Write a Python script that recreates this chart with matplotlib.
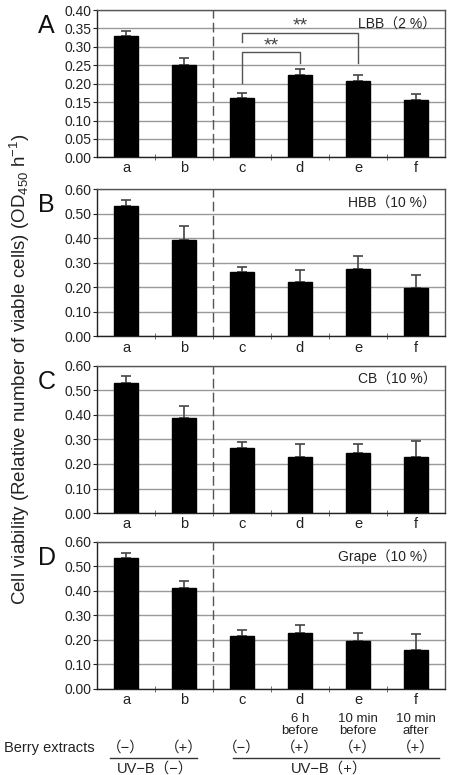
import matplotlib.pyplot as plt
import numpy as np
from matplotlib.transforms import blended_transform_factory
from matplotlib.lines import Line2D

plt.rcParams['font.family'] = ['Liberation Sans', 'Noto Sans CJK JP', 'DejaVu Sans']
plt.rcParams['mathtext.default'] = 'regular'

categories = ['a', 'b', 'c', 'd', 'e', 'f']
panel_letters = ['A', 'B', 'C', 'D']
panel_titles = ['LBB（2 %）', 'HBB（10 %）', 'CB（10 %）', 'Grape（10 %）']

lbb_mean = [0.330, 0.251, 0.160, 0.224, 0.208, 0.157]
lbb_err = [0.014, 0.020, 0.014, 0.015, 0.015, 0.014]
hbb_mean = [0.531, 0.392, 0.264, 0.220, 0.273, 0.197]
hbb_err = [0.025, 0.058, 0.020, 0.051, 0.054, 0.055]
cb_mean = [0.531, 0.389, 0.265, 0.227, 0.244, 0.227]
cb_err = [0.028, 0.049, 0.024, 0.054, 0.038, 0.065]
grape_mean = [0.532, 0.411, 0.215, 0.229, 0.196, 0.158]
grape_err = [0.023, 0.027, 0.026, 0.033, 0.033, 0.067]

means = [lbb_mean, hbb_mean, cb_mean, grape_mean]
errs = [lbb_err, hbb_err, cb_err, grape_err]
ymax = [0.40, 0.60, 0.60, 0.60]
ystep = [0.05, 0.10, 0.10, 0.10]

timing = ['', '', '', '6 h\nbefore', '10 min\nbefore', '10 min\nafter']
berry = ['（−）', '（+）', '（−）', '（+）', '（+）', '（+）']

fig = plt.figure(figsize=(4.49, 7.75), dpi=100)
bottoms = [0.797, 0.566, 0.338, 0.111]
H = 0.19
axes = []
x = np.arange(len(categories))
for i in range(4):
    ax = fig.add_axes([0.216, bottoms[i], 0.775, H])
    axes.append(ax)
    ax.bar(x, means[i], width=0.42, color='black', edgecolor='black', zorder=3)
    ax.errorbar(x, means[i], yerr=[np.zeros(6), errs[i]], fmt='none',
                ecolor='#444444', elinewidth=1.2, capsize=3.5, capthick=1.2, zorder=2)
    ax.set_xlim(-0.5, 5.5)
    ax.set_ylim(0, ymax[i])
    ticks = np.arange(0, ymax[i] + 1e-9, ystep[i])
    ax.set_yticks(ticks)
    ax.set_yticklabels([f'{t:.2f}' for t in ticks], fontsize=10)
    ax.yaxis.grid(True, color='#999999', linewidth=1.0, zorder=0)
    ax.set_axisbelow(True)
    ax.set_xticks(x)
    ax.set_xticklabels(categories, fontsize=10.5, color='#222222')
    ax.set_xticks(x[:-1] + 0.5, minor=True)
    ax.tick_params(axis='x', which='major', length=0, pad=3)
    ax.tick_params(axis='x', which='minor', length=5, direction='inout', color='#555555')
    ax.tick_params(axis='y', length=3, width=0.8, pad=1, colors='#222222')
    ax.axvline(1.5, color='#555555', linestyle=(0, (7, 3)), linewidth=1.0, zorder=4)
    ax.spines['left'].set_color('#222222')
    ax.spines['bottom'].set_color('#222222')
    ax.spines['top'].set_color('#555555')
    ax.spines['right'].set_color('#555555')
    for s in ax.spines.values():
        s.set_linewidth(1.0)
    ax.text(0.975, 0.95, panel_titles[i], transform=ax.transAxes, ha='right', va='top',
            fontsize=10, color='#222222')
    fig.text(0.085, bottoms[i] + H - 0.005, panel_letters[i], fontsize=18,
             ha='left', va='top', color='#111111')

# significance brackets in panel A
axA = axes[0]
axA.plot([2, 2, 4, 4], [0.312, 0.339, 0.339, 0.257], color='#555555', lw=1.0, zorder=5)
axA.plot([2, 2, 3, 3], [0.201, 0.285, 0.285, 0.257], color='#555555', lw=1.0, zorder=5)
axA.text(3, 0.356, '**', ha='center', va='center', fontsize=14, color='#444444')
axA.text(2.5, 0.302, '**', ha='center', va='center', fontsize=14, color='#444444')

fig.text(0.045, 0.523, 'Cell viability (Relative number of viable cells) (OD$_{450}$ h$^{-1}$)',
         rotation=90, ha='center', va='center', fontsize=13.5, color='#222222')

# treatment labels under the bottom panel
axD = axes[3]
tr = blended_transform_factory(axD.transData, fig.transFigure)
for xi, t in zip(x, timing):
    if t:
        axD.text(xi, 1 - 725 / 775, t, transform=tr, ha='center', va='center',
                 fontsize=9.5, color='#222222', linespacing=1.05)
for xi, b in zip(x, berry):
    axD.text(xi, 1 - 748 / 775, b, transform=tr, ha='center', va='center',
             fontsize=10.5, color='#222222')
fig.text(0.008, 1 - 748 / 775, 'Berry extracts', ha='left', va='center',
         fontsize=10.5, color='#222222')
line_y = 1 - 758 / 775
fig.add_artist(Line2D([-0.28, 1.23], [line_y, line_y], transform=tr, color='#333333', lw=1.0))
fig.add_artist(Line2D([1.85, 5.4], [line_y, line_y], transform=tr, color='#333333', lw=1.0))
axD.text(0.5, 1 - 769 / 775, 'UV−B（−）', transform=tr, ha='center', va='center',
         fontsize=10.5, color='#222222')
axD.text(3.5, 1 - 769 / 775, 'UV−B（+）', transform=tr, ha='center', va='center',
         fontsize=10.5, color='#222222')

fig.savefig('out.png', dpi=100)
